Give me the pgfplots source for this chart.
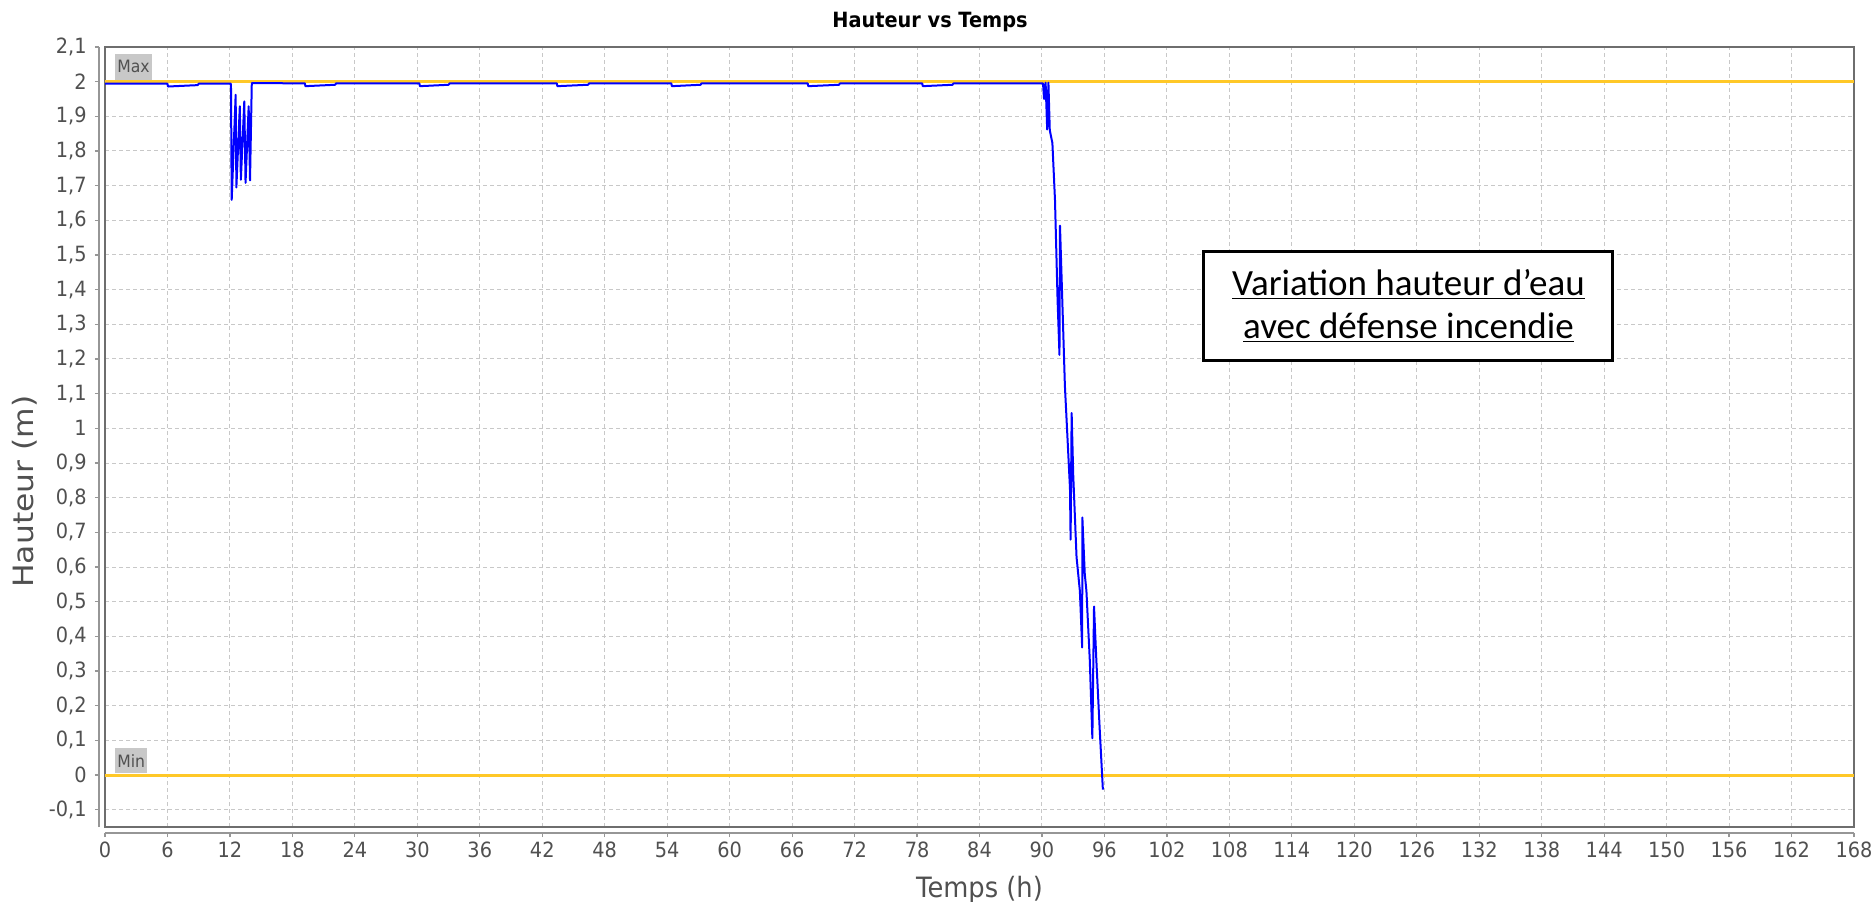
\documentclass[border=0pt]{standalone}
\usepackage{pgfplots}
\pgfplotsset{compat=1.18}
\usepackage{fontspec}
\setmainfont{DejaVu Sans}[FakeStretch=0.92]
\newfontfamily\ylabfont{DejaVu Sans}[FakeStretch=1.12]
\newfontfamily\carlito{Carlito}
\definecolor{lineblue}{RGB}{0,0,255}
\definecolor{limitc}{RGB}{255,200,40}
\definecolor{gridc}{RGB}{200,200,200}
\definecolor{tickc}{RGB}{80,80,80}
\definecolor{framec}{RGB}{110,110,110}
\definecolor{axc}{RGB}{150,150,150}
\definecolor{boxgray}{RGB}{200,200,200}

\pgfplotsset{
  common/.style={width=874.5pt, height=390pt, scale only axis,
    xmin=0, xmax=168, ymin=-0.15, ymax=2.1,
    xtick={0,6,...,168},
    ytick={-0.1,0,0.1,0.2,0.3,0.4,0.5,0.6,0.7,0.8,0.9,1,1.1,1.2,1.3,1.4,1.5,1.6,1.7,1.8,1.9,2,2.1},
    at={(0,0)}, anchor=south west},
  numfmt/.style={/pgf/number format/use comma, /pgf/number format/fixed,
    /pgf/number format/assume math mode=true},
}

\begin{document}
\begin{tikzpicture}
\path[use as bounding box] (-52.5pt,-37pt) rectangle (883.5pt,413.5pt);

% main plotting area
\begin{axis}[common,
  axis line style={framec, line width=0.8pt},
  xticklabels={}, yticklabels={}, major tick length=0pt,
  grid=major, grid style={gridc, dash pattern=on 2pt off 1.5pt, line width=0.5pt},
  every axis title shift=0pt,
  title={\bfseries Hauteur vs Temps},
  title style={at={(axis description cs:0.4717,1.0256)}, anchor=base,
    font=\fontsize{10.5}{12}\selectfont, text=black},
]
% limit lines
\addplot[limitc, line width=1.5pt] coordinates {(0,2) (168,2)};
\addplot[limitc, line width=1.5pt] coordinates {(0,0) (168,0)};

% water height
\addplot[lineblue, line width=1pt, line join=round] coordinates {
(0,1.994) (6.0,1.994) (6.05,1.986) (8.9,1.990) (9.0,1.994)
(12.1,1.994) (12.17,1.659) (12.55,1.962) (12.62,1.695) (12.95,1.929) (13.05,1.717)
(13.38,1.943) (13.5,1.708) (13.8,1.929) (13.93,1.715) (14.1,1.996)
(19.2,1.995) (19.25,1.987) (22.1,1.991) (22.2,1.995)
(30.2,1.995) (30.25,1.987) (33.0,1.991) (33.1,1.995)
(43.4,1.995) (43.45,1.987) (46.4,1.991) (46.5,1.995)
(54.4,1.995) (54.45,1.987) (57.2,1.991) (57.3,1.995)
(67.5,1.995) (67.55,1.987) (70.5,1.991) (70.6,1.995)
(78.5,1.995) (78.55,1.987) (81.4,1.991) (81.5,1.995)
(90.1,1.995) (90.2,1.95) (90.35,1.997) (90.5,1.862) (90.62,1.997) (90.75,1.86)
(91.0,1.823) (91.25,1.659) (91.5,1.369) (91.68,1.212) (91.73,1.585) (91.9,1.42)
(92.2,1.124) (92.69,0.827) (92.75,0.679) (92.85,1.044) (93.0,0.867) (93.32,0.629)
(93.64,0.531) (93.86,0.368) (93.88,0.743) (94.11,0.58) (94.27,0.531) (94.59,0.333)
(94.84,0.106) (95.0,0.486) (95.22,0.333) (95.54,0.135) (95.85,-0.042)
};

\node[fill=boxgray, anchor=south west, minimum width=17.5pt, minimum height=13pt, inner sep=1pt,
  text=tickc, font=\fontsize{8.5}{10}\selectfont, yshift=0.75pt] at (axis cs:0.96,2) {Max};
\node[fill=boxgray, anchor=south west, minimum width=14pt, minimum height=12.5pt, inner sep=1pt,
  text=tickc, font=\fontsize{8.5}{10}\selectfont, yshift=0.75pt] at (axis cs:0.96,0) {Min};

\node[draw=black, fill=white, line width=1.5pt, minimum width=204.5pt, minimum height=54.5pt,
  inner sep=0pt, align=center, font=\carlito\fontsize{18.5}{21.5}\selectfont]
  at (axis cs:125.2,1.352) {\underline{Variation hauteur d’eau}\\\underline{avec défense incendie}};
\end{axis}

% offset y axis
\begin{axis}[common, at={(-3pt,0)},
  hide x axis, axis y line*=left,
  axis line style={-, axc, line width=0.8pt},
  tick align=outside, major tick length=2pt,
  ytick style={axc, line width=0.6pt},
  yticklabel style={tickc, font=\fontsize{10.5}{12}\selectfont, inner sep=0pt, xshift=-4pt, numfmt},
  ylabel={Hauteur (m)},
  ylabel style={at={(axis description cs:-0.0377,0.43)}, anchor=base, rotate=0, text=tickc,
    font=\ylabfont\fontsize{14}{16}\selectfont},
]
\addplot[draw=none] coordinates {(0,0)};
\end{axis}

% offset x axis
\begin{axis}[common, at={(0,-3pt)},
  hide y axis, axis x line*=bottom,
  axis line style={-, axc, line width=0.8pt},
  tick align=outside, major tick length=2pt,
  xtick style={axc, line width=0.6pt},
  xticklabel style={tickc, font=\fontsize{10.5}{12}\selectfont, inner sep=0pt, yshift=-2.5pt, numfmt},
  xlabel={Temps (h)},
  xlabel style={at={(axis description cs:0.5,-0.0821)}, anchor=base, text=tickc,
    font=\fontsize{14}{16}\selectfont},
]
\addplot[draw=none] coordinates {(0,0)};
\end{axis}
\end{tikzpicture}
\end{document}
